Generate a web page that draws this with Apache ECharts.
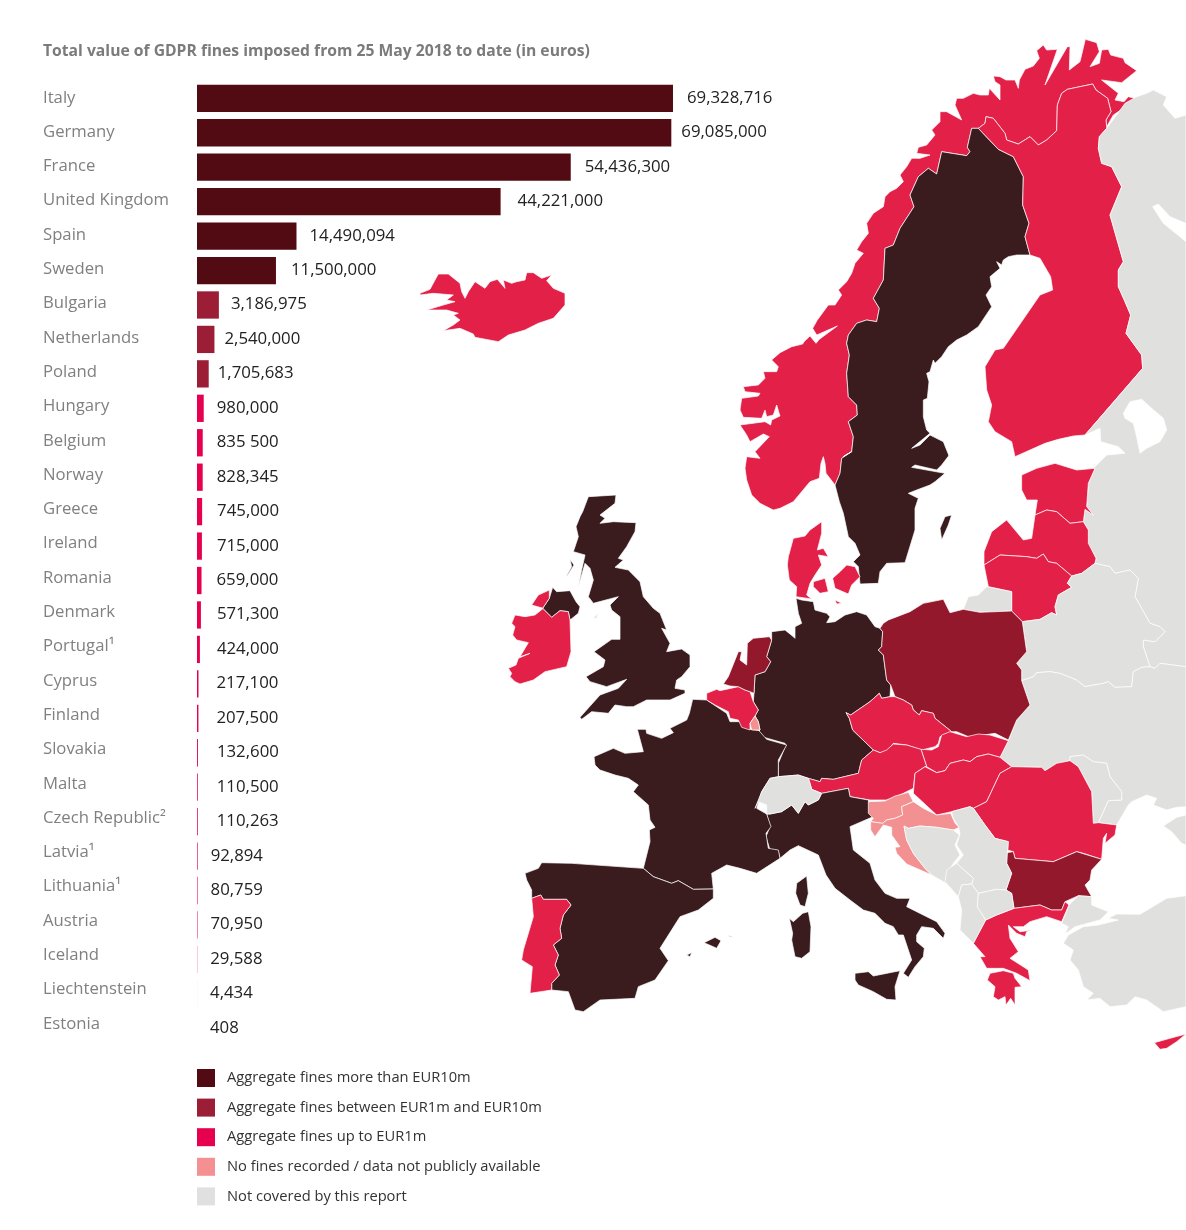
<!DOCTYPE html>
<html><head><meta charset="utf-8">
<style>html,body{margin:0;padding:0;background:#fff}#c{width:1186px;height:1230px}</style>
<script src="https://cdn.jsdelivr.net/npm/echarts@6/dist/echarts.min.js"></script>
</head><body><div id="c"></div>
<script>
// ---------- chart data ----------
const categories = ['Italy','Germany','France','United Kingdom','Spain','Sweden','Bulgaria','Netherlands','Poland','Hungary','Belgium','Norway','Greece','Ireland','Romania','Denmark','Portugal¹','Cyprus','Finland','Slovakia','Malta','Czech Republic²','Latvia¹','Lithuania¹','Austria','Iceland','Liechtenstein','Estonia'];
const fines = [69328716,69085000,54436300,44221000,14490094,11500000,3186975,2540000,1705683,980000,835500,828345,745000,715000,659000,571300,424000,217100,207500,132600,110500,110263,92894,80759,70950,29588,4434,408];
const fineLabels = ['69,328,716','69,085,000','54,436,300','44,221,000','14,490,094','11,500,000','3,186,975','2,540,000','1,705,683','980,000','835 500','828,345','745,000','715,000','659,000','571,300','424,000','217,100','207,500','132,600','110,500','110,263','92,894','80,759','70,950','29,588','4,434','408'];
const legendNames = ['Aggregate fines more than EUR10m','Aggregate fines between EUR1m and EUR10m','Aggregate fines up to EUR1m','No fines recorded / data not publicly available','Not covered by this report'];
const noFinesRegions = ['Croatia','Slovenia','Luxembourg'];
const titleText = 'Total value of GDPR fines imposed from 25 May 2018 to date (in euros)';

// ---------- styles ----------
const barColors = ['#520a13','#9b1e36','#e6004f','#f49091','#e0e0e0'];
const mapColors = ['#3a1b1e','#93182c','#e32048','#f39092','#e0e0de'];
const labelNudge = [1,-3,1,4,0,2,-1,-3,-4,0,1,1,2,2,2,3,4,5,5,6,6,6,0,0,0,0,0,0];

// ---------- map outlines (traced, in the map's own plane) ----------
const oN=[980,30], oS=[730,60], oB=[760,450], oW=[490,480], oF=[500,690], oM=[740,730], oC=[840,740], oI=[410,260];
const tr=(o,f)=>{const r=[];for(let i=0;i<f.length;i+=2)r.push([o[0]+f[i]/3,o[1]+f[i+1]/3]);return r;};
const ring=(...parts)=>[].concat(...parts);

const borderNorFin=ring(tr(oS,[745,205,765,190,768,170,790,175,825,220,830,240,865,252,900,230,925,255,950,240,980,212]),
  tr(oN,[232,225,245,190,262,178,338,162,348,180,383,205,393,245,378,270,380,290]));
const borderNorSwe=ring(tr(oB,[225,105,240,70,245,25,275,5]),
  tr(oS,[340,1190,365,1175,370,1130,355,1085,382,1065,380,1035,355,1010,350,940,358,885,350,850,355,825,380,790,410,780,440,785,448,745,430,715,460,660,465,565,490,555,510,505,552,440,540,405,565,350,595,325,620,342,635,275,710,287,720,275,712,262,725,205,745,205]));
const borderSweFin=tr(oS,[805,268,850,290,880,350,878,435,897,490,885,530,900,585]);
const borderFinRus=tr(oS,[1130,205,1108,230,1105,265,1115,310,1145,320,1175,380,1140,465,1180,605,1165,630,1165,680,1185,725,1202,765,1188,820,1235,885,1238,925,1065,1125]);
const borderEstRus=tr(oB,[1005,55,985,100,980,170,1000,195,975,178,970,215]);
const borderLatRus=tr(oB,[985,240,985,280,1008,325,1005,340]);
const borderBelRus=tr(oB,[1050,350,1065,370,1110,360,1135,385,1125,440,1170,520,1200,530,1215,545,1185,575,1150,570,1150,590,1170,650]);
const borderRusUkr=tr(oB,[1170,650,1185,655,1200,640,1278,650]);
const borderBelUkr=tr(oB,[785,692,820,680,830,668,870,665,900,670,950,690,975,710,1030,700,1045,695,1065,712,1115,710,1120,665,1145,652,1170,650]);

const outlines = {
 'Norway':[ring(borderNorFin.slice(),
   tr(oN,[400,255,430,235,437,222,462,232,465,205,445,200,432,215,405,210,415,190,365,150,425,158,470,122,435,98,430,85,392,75,385,58,365,60,358,100,330,110,358,65,350,38,316,28,300,95,268,120,270,50,262,50,195,165,232,58,200,60,190,45,170,62,178,85,160,108,135,118,118,150,115,175,105,150,78,150,60,140,40,138,45,155,60,165,60,210,28,175,25,195,0,195]),
   tr(oS,[730,100,700,115,680,115,675,135,695,180,650,155,630,155,630,185,605,210,615,225,590,255,565,262,560,280,600,285,570,295,545,295,530,320,510,345,520,365,500,385,480,395,465,410,460,440,430,460,410,490,415,520,395,545,380,570,400,580,375,610,365,640,350,665,325,690,335,705,315,735,295,735,262,780,248,805,260,825,322,798,268,838,258,850,240,828,222,845,218,852,185,860,150,878,125,900,145,920,140,935,100,935,105,955,85,975,40,980,45,995,90,1000,85,1008,35,1015,30,1050,40,1072,95,1075,105,1050,110,1070,130,1065,140,1035,148,1062,150,1068,125,1080,122,1095,105,1085,30,1095,50,1125,60,1145,100,1122,118,1130,75,1175,90,1195,50,1190,45,1225,50,1260]),
   tr(oB,[-25,135,0,160,40,180,60,175,100,155,150,95,178,85,183,40,190,20,195,40,198,70]),
   borderNorSwe)],
 'Sweden':[ring(borderNorSwe,borderSweFin,
   tr(oS,[860,585,835,590,820,600,815,615,800,605,810,625,780,650,785,680,768,705,785,740,745,800,710,825,680,840,655,860,635,890,615,910,610,900,600,935,590,940,597,965,592,1015,580,1020,580,1070,590,1110,600,1120,545,1165,570,1155,600,1125,640,1145,658,1190]),
   tr(oB,[568,15,545,45,530,60,465,45,455,52,555,70,525,95,510,105,470,120,445,130,475,145,465,175,465,240,435,338,380,340,360,365,355,400,300,402,295,350,280,335,300,315,285,280,265,260,250,190,238,155])),
   tr(oB,[575,195,555,200,540,235,545,270,565,225])],
 'Finland':[ring(borderNorFin,borderFinRus,
   tr(oS,[1030,1128,985,1138,945,1150,855,1190,845,1145,795,1115,775,1085,785,1035,770,990,765,920,795,870,820,865,930,705,968,690,962,650,930,595]),
   borderSweFin.slice().reverse())],
 'Russia':[ring(borderFinRus.slice().reverse(),
   tr(oS,[1160,165,1185,130,1220,110,1250,100,1270,90,1310,110,1300,135,1335,175,1368,165,1368,490,1320,470,1285,432,1268,440,1300,490,1325,510,1368,545]),
   tr(oB,[1278,650]),borderRusUkr.slice().reverse(),borderBelRus.slice().reverse(),
   tr(oB,[1005,340]),borderLatRus.slice().reverse(),tr(oB,[970,215]),borderEstRus.slice().reverse(),
   tr(oS,[1090,1225,1130,1185,1185,1180,1165,1160,1112,1145,1110,1105]))],
 'Lake':[tr(oS,[1180,1060,1200,1025,1235,1018,1265,1045,1300,1075,1310,1110,1290,1145,1250,1165,1230,1180,1220,1130,1210,1090,1185,1075])],
 'Estonia':[ring(tr(oB,[785,75,830,55,885,40,950,60]),borderEstRus,tr(oB,[930,220,890,185,860,180,825,195,832,150,800,150,785,120]))],
 'Latvia':[ring(tr(oB,[672,345,672,305,695,245,740,210,765,240,790,270,815,265,825,195,860,180,890,185,930,220,970,215]),borderLatRus,tr(oB,[965,370,935,378,890,340,865,335,850,312,830,325,800,320,720,315]))],
 'Lithuania':[tr(oB,[672,345,720,315,800,320,830,325,850,312,865,335,890,340,935,378,922,400,935,412,895,435,885,470,890,495,875,488,840,508,787,515,755,483,755,425,685,410])],
 'Kaliningrad':[tr(oB,[610,478,625,440,655,435,680,410,755,425,755,483,660,487])],
 'Belarus':[ring(tr(oB,[935,378,965,370,1005,340]),borderBelRus,borderBelUkr.slice().reverse(),tr(oB,[785,660,770,640,800,605,787,515,840,508,875,488,890,495,885,470,895,435,935,412,922,400]))],
 'Ukraine':[ring(borderBelUkr,borderRusUkr.slice(1),
   tr(oM,[1338,230,1310,232,1280,240,1240,225,1250,205,1220,195,1175,215,1165,225,1130,285,1075,278,1105,212,1145,210,1145,185,1110,140,1100,100,1060,95,1030,75,990,80,990,92,950,100,915,122,905,112,815,110,780,82,805,32]),
   tr(oB,[745,870,770,810,810,765])),
   tr(oM,[1338,255,1310,262,1270,288,1295,305,1325,340,1338,345])],
 'Moldova':[tr(oM,[990,80,1030,75,1060,95,1100,100,1110,140,1145,185,1145,210,1105,212,1075,278,1060,280,1055,185,1015,110,990,92])],
 'Denmark':[tr(oB,[185,215,150,240,135,258,100,265,85,320,82,345,88,390,110,410,108,440,155,447,140,435,150,400,165,375,185,345,175,315,205,320,190,295,172,300,185,250]),
   tr(oB,[160,395,195,385,205,425,180,430,160,410]),
   tr(oB,[218,385,240,365,260,345,285,350,300,380,275,405,265,432,225,415]),
   tr(oB,[225,450,245,460,230,462])],
 'Germany':[ring(tr(oB,[108,445,125,450,160,455,165,480,200,490,210,500,200,518,225,515,255,495,290,485,320,495,345,530,360,535,368,545,365,590,355,600,370,615,380,690,392,705,390,740,365,745,358,730,330,755,272,795,258,788,268,805,278,840,340,900]),
   tr(oM,[365,90,355,130,280,148,245,145,240,155,205,145,175,135,115,140,115,100,138,45,135,40,65,20,50,0]),
   tr(oW,[810,750,805,725,795,708,805,690,790,665,792,640,795,585,825,575,842,545,830,530,845,480]),
   tr(oB,[35,545,75,540,100,560,105,565,105,530,125,520,115,490]))],
 'Poland':[tr(oB,[370,520,385,510,450,485,490,460,550,448,570,488,610,478,660,487,755,483,787,515,800,605,770,640,785,660,785,692,810,765,770,810,745,870,705,850,670,855,630,862,590,845,575,845,525,805,520,790,485,782,478,795,460,780,455,765,430,750,405,740,392,705,380,690,370,615,355,600,365,590,368,545,360,535])],
 'Czech Republic':[tr(oB,[258,788,272,795,330,755,358,730,365,745,390,740,405,740,430,750,455,765,460,780,478,795,485,782,520,790,525,805,575,845,540,860,535,880,525,890,485,900,440,885,400,880,380,905,360,908,340,900,278,840,268,805])],
 'Slovakia':[tr(oM,[543,58,575,60,595,50,605,15,630,5,680,20,715,12,750,15,805,32,780,82,745,72,710,80,690,95,670,90,630,100,615,122,590,128,560,110])],
 'Austria':[tr(oM,[205,145,240,155,245,145,280,148,355,130,365,90,400,60,420,68,440,60,460,42,500,45,543,58,560,110,555,110,525,130,520,175,480,195,440,210,390,210,330,200,325,175,245,190,215,178,210,160])],
 'Hungary':[tr(oM,[555,110,590,128,615,122,630,100,670,90,690,95,710,80,745,72,780,82,815,110,780,130,740,215,700,235,690,230,635,245,590,255,520,190,525,130])],
 'Romania':[tr(oM,[815,110,905,112,915,122,950,100,990,92,1015,110,1055,185,1060,280,1075,278,1130,285,1125,315,1095,340,1100,310,1090,325,1085,388,1030,370,1010,365,940,395,825,385,820,365,803,360,805,335,765,325,735,285,700,235,740,215,780,130])],
 'Bulgaria':[tr(oM,[800,368,820,365,825,385,940,395,1010,365,1085,388,1055,420,1050,450,1035,465,1055,500,1015,497,975,515,965,540,935,540,900,525,822,535,815,490,798,480,815,430,800,400])],
 'Greece':[tr(oM,[737,570,770,555,822,535,900,525,935,540,965,540,975,515,987,525,965,575,920,560,870,575,850,590,820,590,840,605,880,600,860,605,855,620,830,610,805,585,810,625,835,665,810,685,865,720,870,752,830,730,790,715,740,715,720,680,735,680,700,640]),
   tr(oM,[750,730,790,722,820,730,825,745,845,770,825,772,825,825,812,805,798,825,795,800,775,810,760,800,765,770,742,750])],
 'Cyprus':[tr(oM,[1243,938,1290,925,1338,912,1310,935,1280,955,1260,958])],
 'Turkey':[tr(oM,[1338,497,1280,505,1200,553,1130,552,1105,565,1135,570,1075,585,1030,590,985,615,970,640,1000,660,990,690,1015,720,1030,770,1060,790,1040,810,1080,805,1110,830,1160,825,1185,800,1220,810,1270,845,1338,830]),
   tr(oM,[975,555,987,525,1015,497,1055,500,1055,525,1105,545,1080,570,1005,590,975,612,985,590,965,580])],
 'Italy':[tr(oM,[80,252,90,252,125,245,155,225,175,250,195,215,205,225,235,210,245,190,325,175,330,200,385,210,390,230,405,265,395,262,330,290,340,360,390,400,405,450,435,490,470,505,510,505,500,530,590,575,615,610,610,625,580,595,545,590,530,615,530,635,553,655,550,680,525,710,505,742,490,730,515,690,490,615,475,615,460,590,435,580,405,550,370,540,330,510,285,475,258,435,235,375,175,347,150,360,120,385,115,365,90,360,78,320,90,290]),
   tr(oM,[345,730,385,725,400,738,480,722,465,770,468,810,440,808,400,785,355,765,345,750]),
   tr(oM,[148,565,160,575,188,550,205,545,213,590,210,665,185,685,165,680,155,630,158,610])],
 'France':[tr(oF,[620,30,578,28,568,70,560,90,510,115,520,128,485,145,440,130,438,118,412,118,430,185,375,190,340,175,282,200,285,225,300,240,345,255,385,265,415,285,400,305,445,345,450,390,465,412,448,420,450,455,430,535,460,560,515,580,535,572,580,598,640,597,635,550,680,525,720,535,770,550,840,505,835,480,805,475,798,430,813,410,800,372,770,355,785,305,810,265,835,260,835,210,860,165,800,148,775,120,780,122,750,118,725,95,690,95,680,70]),
   tr(oM,[200,438,205,490,195,530,180,525,167,490,170,460])],
 'Spain':[tr(oF,[430,535,460,560,515,580,535,572,580,598,640,597,640,625,595,660,540,680,480,775,505,812,465,870,415,890,405,925,300,930,250,965,225,960,205,905,155,900,155,880,178,855,165,825,175,795,160,765,185,745,180,715,190,675,213,645,200,628,130,628,122,615,95,625,95,600,80,570,75,550,115,535,125,518,215,520]),
   tr(oF,[612,758,645,742,663,752,650,775,635,768]),tr(oF,[682,735,700,742,690,740]),tr(oF,[560,795,575,788,570,800])],
 'Portugal':[tr(oF,[95,625,122,615,130,628,200,628,213,645,190,675,180,715,185,745,160,765,175,795,165,825,178,855,155,880,155,900,90,910,97,830,65,810,70,780,100,680])],
 'Switzerland':[tr(oM,[45,235,65,185,90,145,115,140,175,135,205,145,210,160,215,178,245,190,235,210,205,225,195,215,175,250,155,225,125,245,90,252,80,252,80,225,55,215])],
 'Belgium':[tr(oW,[650,640,680,628,690,632,745,620,765,630,780,635,790,665,805,690,795,708,780,730,780,750,755,742,745,720,720,715,715,695,675,675,650,660])],
 'Luxembourg':[tr(oW,[780,730,795,708,805,725,810,750,785,750])],
 'Netherlands':[tr(oW,[700,612,715,590,745,515,755,515,750,540,770,555,772,490,790,475,838,470,845,480,830,530,842,545,825,575,795,585,792,640,780,635,765,630,745,620,720,618])],
 'United Kingdom':[tr(oW,[295,50,378,45,375,70,330,105,345,115,330,130,370,125,438,128,435,155,410,200,385,235,400,240,375,262,415,270,450,305,460,350,490,385,510,400,530,450,515,445,540,490,530,515,575,507,600,525,600,560,575,590,560,600,555,625,585,630,585,640,540,660,470,660,430,680,410,680,375,675,355,700,305,695,275,718,270,712,330,645,385,625,410,598,350,620,300,605,288,590,340,560,345,540,312,515,365,478,390,478,390,410,365,390,360,375,385,350,310,370,295,350,310,300,300,265,285,250,265,320,275,270,285,225,250,215,265,170,258,140,270,110,278,95]),
   tr(oW,[188,322,200,335,240,332,258,365,270,380,265,400,240,420,235,395,210,392,185,412,158,385,178,355]),
   tr(oW,[240,238,252,255,235,282,228,290,245,260])],
 'Isle of Man':[tr(oW,[310,415,325,398,320,415])],
 'Ireland':[tr(oW,[178,330,178,355,158,385,185,412,210,392,235,395,240,420,243,515,230,560,165,575,130,600,90,612,75,605,60,590,65,580,55,565,78,555,85,535,120,520,90,530,115,488,80,480,68,465,75,440,65,430,75,405,105,410,135,405,160,385,125,375,145,345])],
 'Iceland':[tr(oI,[30,100,60,88,75,60,85,42,115,42,150,70,155,95,165,115,175,95,195,65,225,85,240,65,262,58,285,85,280,60,305,70,320,65,345,60,350,38,370,38,395,55,425,45,410,62,430,85,465,100,465,135,430,175,385,190,345,210,295,225,265,245,195,232,190,222,150,205,100,212,130,195,150,180,130,165,145,160,110,150,50,150,100,135,135,125,110,120,130,105,70,100,30,105])],
 'Slovenia':[tr(oC,[85,185,135,183,165,168,205,157,220,185,185,200,188,225,165,235,140,240,128,250,92,245,100,235,85,220])],
 'Croatia':[tr(oC,[92,245,128,250,140,240,165,235,188,225,185,200,220,185,250,205,290,225,332,220,345,250,358,262,340,270,290,262,240,258,205,265,192,258,200,300,220,340,255,385,275,405,200,372,170,340,165,322,180,320,155,285,155,262,130,255,105,290,92,270])],
 'Bosnia':[tr(oC,[192,258,205,265,240,258,290,262,340,270,358,285,345,315,360,345,340,370,320,405,318,430,275,405,255,385,220,340,200,300])],
 'Serbia':[tr(oM,[635,245,690,230,700,235,735,285,765,325,805,335,803,360,800,400,815,430,798,480,770,478,715,490,695,462,700,445,650,400,670,375,650,345,660,312,655,290,640,265])],
 'Montenegro':[tr(oM,[650,400,700,445,695,462,665,465,655,500,615,455,620,420])],
 'Albania':[tr(oM,[665,465,695,462,715,490,712,530,737,570,700,640,660,600,665,540,655,500])],
 'Macedonia':[tr(oM,[715,490,770,478,798,480,815,490,822,535,770,555,737,570,712,530])]
};

// ---------- assembling ----------
const tierOf=v=>v>10e6?0:v>=1e6?1:2;
const fineByRegion={};
categories.forEach((c,i)=>{fineByRegion[c.replace(/[¹²]/g,'')]=fines[i];});
const regionColor=n=>n==='Lake'?'#ffffff':fineByRegion[n]!=null?mapColors[tierOf(fineByRegion[n])]:noFinesRegions.includes(n)?mapColors[3]:mapColors[4];
const closeRing=r=>{const c=r.map(p=>[+p[0].toFixed(2),+p[1].toFixed(2)]);c.push(c[0].slice());return c;};
const geoJson={type:'FeatureCollection',features:Object.keys(outlines).map(n=>({type:'Feature',properties:{name:n},geometry:{type:'MultiPolygon',coordinates:outlines[n].map(r=>[closeRing(r)])}}))};
echarts.registerMap('europe',geoJson);

const fontFamily='"Open Sans","Noto Sans",sans-serif';
const tierSeries=[0,1,2].map(t=>({
  name:legendNames[t],type:'bar',stack:'fines',xAxisIndex:0,yAxisIndex:0,barWidth:27.3,
  itemStyle:{color:barColors[t]},silent:true,
  label:{show:true,position:'right',color:'#222',fontFamily,fontSize:16.8,
    formatter:p=>fineLabels[p.dataIndex]},
  data:fines.map((v,i)=>tierOf(v)===t?{value:v,label:{distance:13+labelNudge[i],offset:[0,-0.3]}}:null)
}));
const emptySeries=[3,4].map(t=>({name:legendNames[t],type:'bar',stack:'fines',xAxisIndex:0,yAxisIndex:0,itemStyle:{color:barColors[t]},data:[]}));

const chart=echarts.init(document.getElementById('c'),null,{renderer:'canvas'});
chart.setOption({
  animation:false,backgroundColor:'#fff',
  title:{text:titleText,left:43,top:44,padding:0,textStyle:{fontFamily,fontSize:15.7,fontWeight:'bold',color:'#7b7b7b'}},
  tooltip:{show:false},
  legend:{orient:'vertical',left:197,top:1069,padding:0,itemWidth:18,itemHeight:18,itemGap:11.6,icon:'rect',selectedMode:false,
    data:legendNames,textStyle:{fontFamily,fontSize:14.7,color:'#333',padding:[8,0,0,7]}},
  grid:[{left:197,top:81.1,width:480.6,height:964.4},{left:197,top:80.6,width:480.6,height:960.4}],
  xAxis:[{type:'value',gridIndex:0,min:0,max:70000000,show:false},{type:'value',gridIndex:1,min:0,max:1,show:false}],
  yAxis:[
    {type:'category',gridIndex:0,inverse:true,data:categories,axisLine:{show:false},axisTick:{show:false},axisLabel:{show:false}},
    {type:'category',gridIndex:1,inverse:true,data:categories,axisLine:{show:false},axisTick:{show:false},
     axisLabel:{show:true,interval:0,align:'left',margin:154,fontFamily,fontSize:16.7,color:'#808080'}}
  ],
  series:[
    {name:'map',type:'map',map:'europe',silent:true,roam:false,showLegendSymbol:false,
     left:0,top:0,width:1186,height:1230,
     boundingCoords:[[0,0],[1186,1230]],
     projection:{project:p=>[p[0],p[1]],unproject:p=>[p[0],p[1]]},
     label:{show:false},emphasis:{disabled:true},select:{disabled:true},
     itemStyle:{borderColor:'#fff',borderWidth:0.7},
     data:Object.keys(outlines).map(n=>({name:n,value:fineByRegion[n],itemStyle:{areaColor:regionColor(n)}}))},
    ...tierSeries,...emptySeries
  ]
});
</script></body></html>
